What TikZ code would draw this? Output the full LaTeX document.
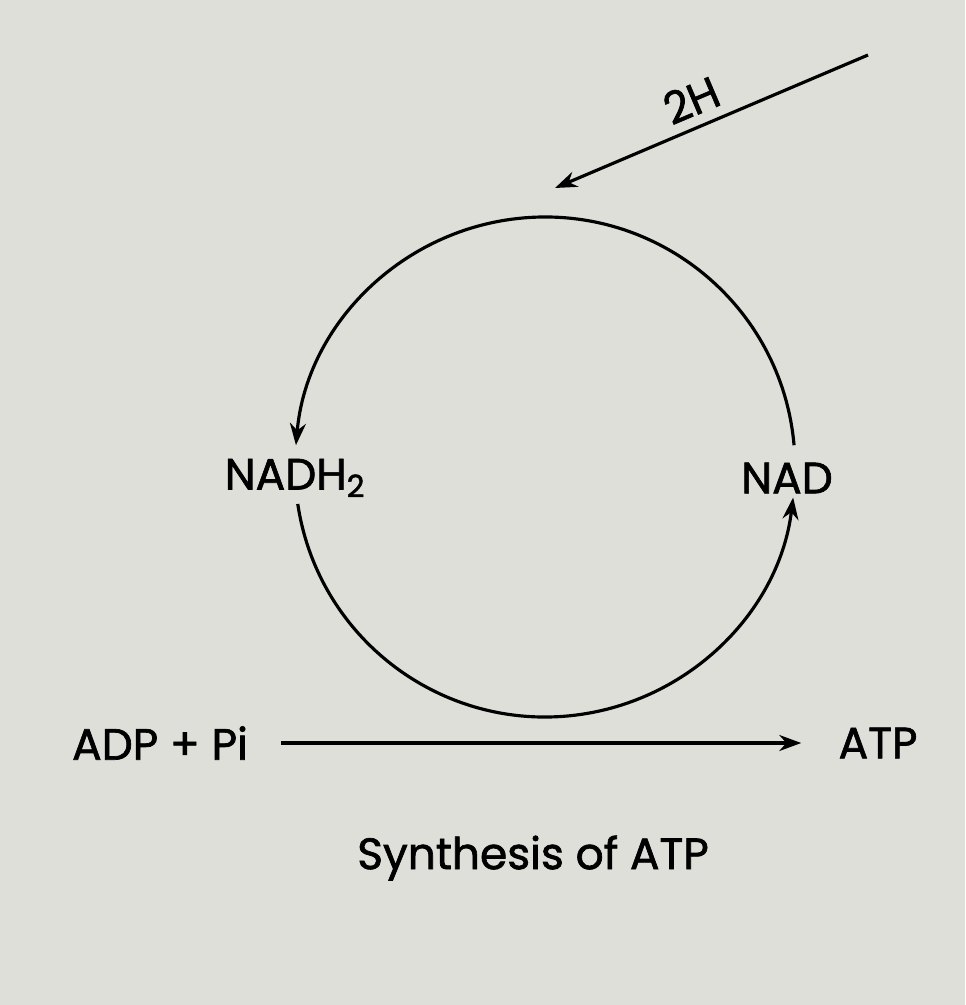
\documentclass[tikz,border=0pt]{standalone}
\usepackage{fontspec}
\setmainfont{Poppins}[FakeBold=1.5]
\usetikzlibrary{arrows.meta, positioning, calc}

\definecolor{paper}{HTML}{DEDFD9}
\tikzset{
    label text/.style={font=\fontsize{25}{29}\selectfont, inner sep=0pt},
    flow/.style={line width=1.8pt, -{Stealth[length=0.44cm, width=0.32cm]}},
}

\begin{document}
\begin{tikzpicture}
    % Page
    \fill[paper] (0,0) rectangle (19.3,-20.1);
    \useasboundingbox (0,0) rectangle (19.3,-20.1);

    % Cycle
    \coordinate (centre) at (10.9,-9.34);
    \node[label text] (nadh) at (5.9,-9.56) {NADH\textsubscript{2}};
    \node[label text] (nad) at (15.74,-9.56) {NAD};
    \coordinate (nadtop) at ($(centre)+(5:5cm)$);
    \coordinate (nadhbot) at ($(centre)+(188.5:5cm)$);
    \draw[flow] (nadtop) arc[start angle=5, end angle=175, radius=5cm];
    \draw[flow] (nadhbot) arc[start angle=188.5, end angle=353, radius=5cm];

    % Incoming hydrogen
    \coordinate (hstart) at (17.36,-1.1);
    \coordinate (hend) at (11.1,-3.76);
    \draw[flow] (hstart) -- node[label text, pos=0.53, sloped, above=0.2cm] (twoh) {2H} (hend);

    % Phosphorylation
    \node[label text] (adp) at (3.2,-14.86) {ADP + Pi};
    \node[label text] (atp) at (17.56,-14.86) {ATP};
    \draw[flow, shorten <=0.66cm, shorten >=0.74cm] (adp.east) -- (atp.west);

    % Caption
    \node[label text] (caption) at (10.66,-17.16) {Synthesis of ATP};
\end{tikzpicture}
\end{document}
